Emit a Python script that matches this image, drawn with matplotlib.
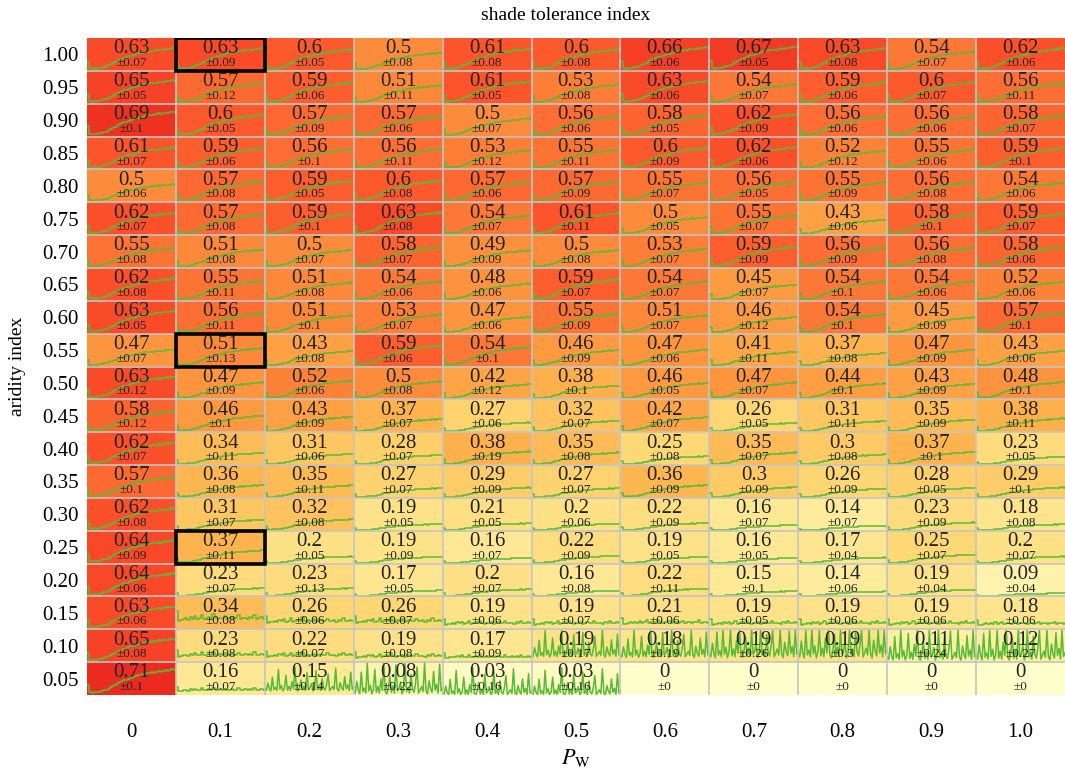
import numpy as np
import matplotlib
matplotlib.use("Agg")
import matplotlib.pyplot as plt
from matplotlib.patches import Rectangle

plt.rcParams['font.family'] = ['Liberation Serif', 'DejaVu Serif']
plt.rcParams['mathtext.fontset'] = 'stix'

# axis categories
p_w = ["0", "0.1", "0.2", "0.3", "0.4", "0.5", "0.6", "0.7", "0.8", "0.9", "1.0"]
aridity = ["1.00", "0.95", "0.90", "0.85", "0.80", "0.75", "0.70", "0.65", "0.60", "0.55",
           "0.50", "0.45", "0.40", "0.35", "0.30", "0.25", "0.20", "0.15", "0.10", "0.05"]

# mean shade tolerance per cell (rows: aridity high -> low, cols: P_W)
means = [
    [0.63, 0.63, 0.6, 0.5, 0.61, 0.6, 0.66, 0.67, 0.63, 0.54, 0.62],
    [0.65, 0.57, 0.59, 0.51, 0.61, 0.53, 0.63, 0.54, 0.59, 0.6, 0.56],
    [0.69, 0.6, 0.57, 0.57, 0.5, 0.56, 0.58, 0.62, 0.56, 0.56, 0.58],
    [0.61, 0.59, 0.56, 0.56, 0.53, 0.55, 0.6, 0.62, 0.52, 0.55, 0.59],
    [0.5, 0.57, 0.59, 0.6, 0.57, 0.57, 0.55, 0.56, 0.55, 0.56, 0.54],
    [0.62, 0.57, 0.59, 0.63, 0.54, 0.61, 0.5, 0.55, 0.43, 0.58, 0.59],
    [0.55, 0.51, 0.5, 0.58, 0.49, 0.5, 0.53, 0.59, 0.56, 0.56, 0.58],
    [0.62, 0.55, 0.51, 0.54, 0.48, 0.59, 0.54, 0.45, 0.54, 0.54, 0.52],
    [0.63, 0.56, 0.51, 0.53, 0.47, 0.55, 0.51, 0.46, 0.54, 0.45, 0.57],
    [0.47, 0.51, 0.43, 0.59, 0.54, 0.46, 0.47, 0.41, 0.37, 0.47, 0.43],
    [0.63, 0.47, 0.52, 0.5, 0.42, 0.38, 0.46, 0.47, 0.44, 0.43, 0.48],
    [0.58, 0.46, 0.43, 0.37, 0.27, 0.32, 0.42, 0.26, 0.31, 0.35, 0.38],
    [0.62, 0.34, 0.31, 0.28, 0.38, 0.35, 0.25, 0.35, 0.3, 0.37, 0.23],
    [0.57, 0.36, 0.35, 0.27, 0.29, 0.27, 0.36, 0.3, 0.26, 0.28, 0.29],
    [0.62, 0.31, 0.32, 0.19, 0.21, 0.2, 0.22, 0.16, 0.14, 0.23, 0.18],
    [0.64, 0.37, 0.2, 0.19, 0.16, 0.22, 0.19, 0.16, 0.17, 0.25, 0.2],
    [0.64, 0.23, 0.23, 0.17, 0.2, 0.16, 0.22, 0.15, 0.14, 0.19, 0.09],
    [0.63, 0.34, 0.26, 0.26, 0.19, 0.19, 0.21, 0.19, 0.19, 0.19, 0.18],
    [0.65, 0.23, 0.22, 0.19, 0.17, 0.19, 0.18, 0.19, 0.19, 0.11, 0.12],
    [0.71, 0.16, 0.15, 0.08, 0.03, 0.03, 0, 0, 0, 0, 0],
]

stds = [
    [0.07, 0.09, 0.05, 0.08, 0.08, 0.08, 0.06, 0.05, 0.08, 0.07, 0.06],
    [0.05, 0.12, 0.06, 0.11, 0.05, 0.08, 0.06, 0.07, 0.06, 0.07, 0.11],
    [0.1, 0.05, 0.09, 0.06, 0.07, 0.06, 0.05, 0.09, 0.06, 0.06, 0.07],
    [0.07, 0.06, 0.1, 0.11, 0.12, 0.11, 0.09, 0.06, 0.12, 0.06, 0.1],
    [0.06, 0.08, 0.05, 0.08, 0.06, 0.09, 0.07, 0.05, 0.09, 0.08, 0.06],
    [0.07, 0.08, 0.1, 0.08, 0.07, 0.11, 0.05, 0.07, 0.06, 0.1, 0.07],
    [0.08, 0.08, 0.07, 0.07, 0.09, 0.08, 0.07, 0.09, 0.09, 0.08, 0.06],
    [0.08, 0.11, 0.08, 0.06, 0.06, 0.07, 0.07, 0.07, 0.1, 0.06, 0.06],
    [0.05, 0.11, 0.1, 0.07, 0.06, 0.09, 0.07, 0.12, 0.1, 0.09, 0.1],
    [0.07, 0.13, 0.08, 0.06, 0.1, 0.09, 0.06, 0.11, 0.08, 0.09, 0.06],
    [0.12, 0.09, 0.06, 0.08, 0.12, 0.1, 0.05, 0.07, 0.1, 0.09, 0.1],
    [0.12, 0.1, 0.09, 0.07, 0.06, 0.07, 0.07, 0.05, 0.11, 0.09, 0.11],
    [0.07, 0.11, 0.06, 0.07, 0.19, 0.08, 0.08, 0.07, 0.08, 0.1, 0.05],
    [0.1, 0.08, 0.11, 0.07, 0.09, 0.07, 0.09, 0.09, 0.09, 0.05, 0.1],
    [0.08, 0.07, 0.08, 0.05, 0.05, 0.06, 0.09, 0.07, 0.07, 0.09, 0.08],
    [0.09, 0.11, 0.05, 0.09, 0.07, 0.09, 0.05, 0.05, 0.04, 0.07, 0.07],
    [0.06, 0.07, 0.13, 0.05, 0.07, 0.08, 0.11, 0.1, 0.06, 0.04, 0.04],
    [0.06, 0.08, 0.06, 0.07, 0.06, 0.07, 0.06, 0.05, 0.06, 0.06, 0.06],
    [0.08, 0.08, 0.07, 0.08, 0.09, 0.17, 0.19, 0.26, 0.3, 0.24, 0.27],
    [0.1, 0.07, 0.14, 0.22, 0.16, 0.16, 0, 0, 0, 0, 0],
]

# highlighted cells (row index, col index)
highlight = [(0, 1), (9, 1), (15, 1)]

# run traces inside each cell, relative to the cell mean
trace_rise = [0.45, 0.12, 0.10, 0.12, 0.11, 0.14, 0.16, 0.20, 0.22, 0.27,
              0.33, 0.38, 0.44, 0.50, 0.55, 0.58, 0.63, 0.66, 0.70, 0.74,
              0.77, 0.80, 0.84, 0.86, 0.88, 0.91, 0.93, 0.95, 0.97, 0.96,
              0.99, 1.02, 1.00, 1.03, 1.06, 1.04, 1.07, 1.10, 1.08, 1.12]
trace_flat = [1.6, 0.7, 0.8, 0.9, 1.0, 0.85, 1.1, 0.95, 1.2, 0.9,
              1.0, 1.3, 0.9, 1.0, 1.1, 0.95, 1.4, 1.0, 0.9, 1.05,
              1.0, 1.15, 0.9, 1.0, 1.1, 0.95, 1.0, 1.25, 0.95, 1.0,
              1.05, 0.9, 1.1, 1.0, 1.3, 0.95, 1.0, 1.1, 0.95, 1.05]
# spiky traces, in units of the cell std above the mean
trace_spiky = [0.2, -0.1, 1.5, 0.3, -0.2, 2.8, 0.1, 0.6, -0.1, 4.5,
               0.2, 1.0, -0.2, 0.4, 3.2, 0.0, 0.8, -0.1, 1.8, 0.3,
               5.0, 0.1, -0.2, 0.6, 2.2, 0.0, 0.9, -0.1, 3.8, 0.2,
               0.5, 1.4, -0.2, 0.3, 4.2, 0.1, 0.7, -0.1, 2.5, 0.4,
               0.0, 1.2, 3.5, -0.1, 0.3, 0.8, 0.1, 4.8, 0.2, -0.2,
               1.6, 0.5, 0.0, 2.9, 0.3, 1.1, -0.1, 3.9, 0.2, 0.6]

M = np.array(means)
S = np.array(stds)
n_rows, n_cols = M.shape

fig = plt.figure(figsize=(10.65, 7.7), dpi=100)
ax = fig.add_axes([87 / 1065, 75 / 770, 978 / 1065, 657 / 770])

ax.imshow(M, cmap='YlOrRd', vmin=0, vmax=1, aspect='auto',
          interpolation='nearest', extent=(0, n_cols, n_rows, 0))

green = '#58bb38'
for j in range(n_rows):
    for i in range(n_cols):
        m, s = M[j, i], S[j, i]
        if m > 0:
            if s >= 0.14 and j >= 18:
                level = m + np.array(trace_spiky) * s
                style = 'default'
            elif j >= 17 and i > 0:
                level = m * np.array(trace_flat)
                style = 'steps-post'
            else:
                level = m * np.array(trace_rise)
                style = 'steps-post'
            level = np.clip(level, 0.01, 0.97)
            xs = np.linspace(i, i + 1, len(level))
            ax.plot(xs, j + 1 - level, color=green, lw=1.1, drawstyle=style, zorder=2)
        ax.text(i + 0.5, j + 0.33, f"{m:g}", ha='center', va='center',
                fontsize=15, color='#222222', zorder=4)
        ax.text(i + 0.5, j + 0.76, f"\u00b1{s:g}", ha='center', va='center',
                fontsize=9.5, color='#222222', zorder=4)

ax.hlines(np.arange(1, n_rows), 0, n_cols, color='#c4c4c4', lw=1.2, zorder=3)
ax.vlines(np.arange(1, n_cols), 0, n_rows, color='#c4c4c4', lw=1.2, zorder=3)

for (j, i) in highlight:
    ax.add_patch(Rectangle((i, j), 1, 1, fill=False, edgecolor='black', lw=2.6, zorder=5))

ax.set_xlim(0, n_cols)
ax.set_ylim(n_rows, 0)
ax.set_xticks(np.arange(n_cols) + 0.5)
ax.set_xticklabels(p_w, fontsize=15)
ax.set_yticks(np.arange(n_rows) + 0.5)
ax.set_yticklabels(aridity, fontsize=15)
ax.tick_params(length=0)
ax.tick_params(axis='x', pad=20)
ax.tick_params(axis='y', pad=6)
for sp in ax.spines.values():
    sp.set_visible(False)

fig.text(566 / 1065, 1 - 15 / 770, 'shade tolerance index', ha='center', va='center', fontsize=14)
fig.text(576 / 1065, 1 - 758 / 770, r'$P_{\mathrm{W}}$', ha='center', va='center', fontsize=16)
fig.text(18 / 1065, 1 - 366 / 770, 'aridity index', ha='center', va='center',
         rotation=90, fontsize=14)

fig.savefig('out.png', dpi=100)
